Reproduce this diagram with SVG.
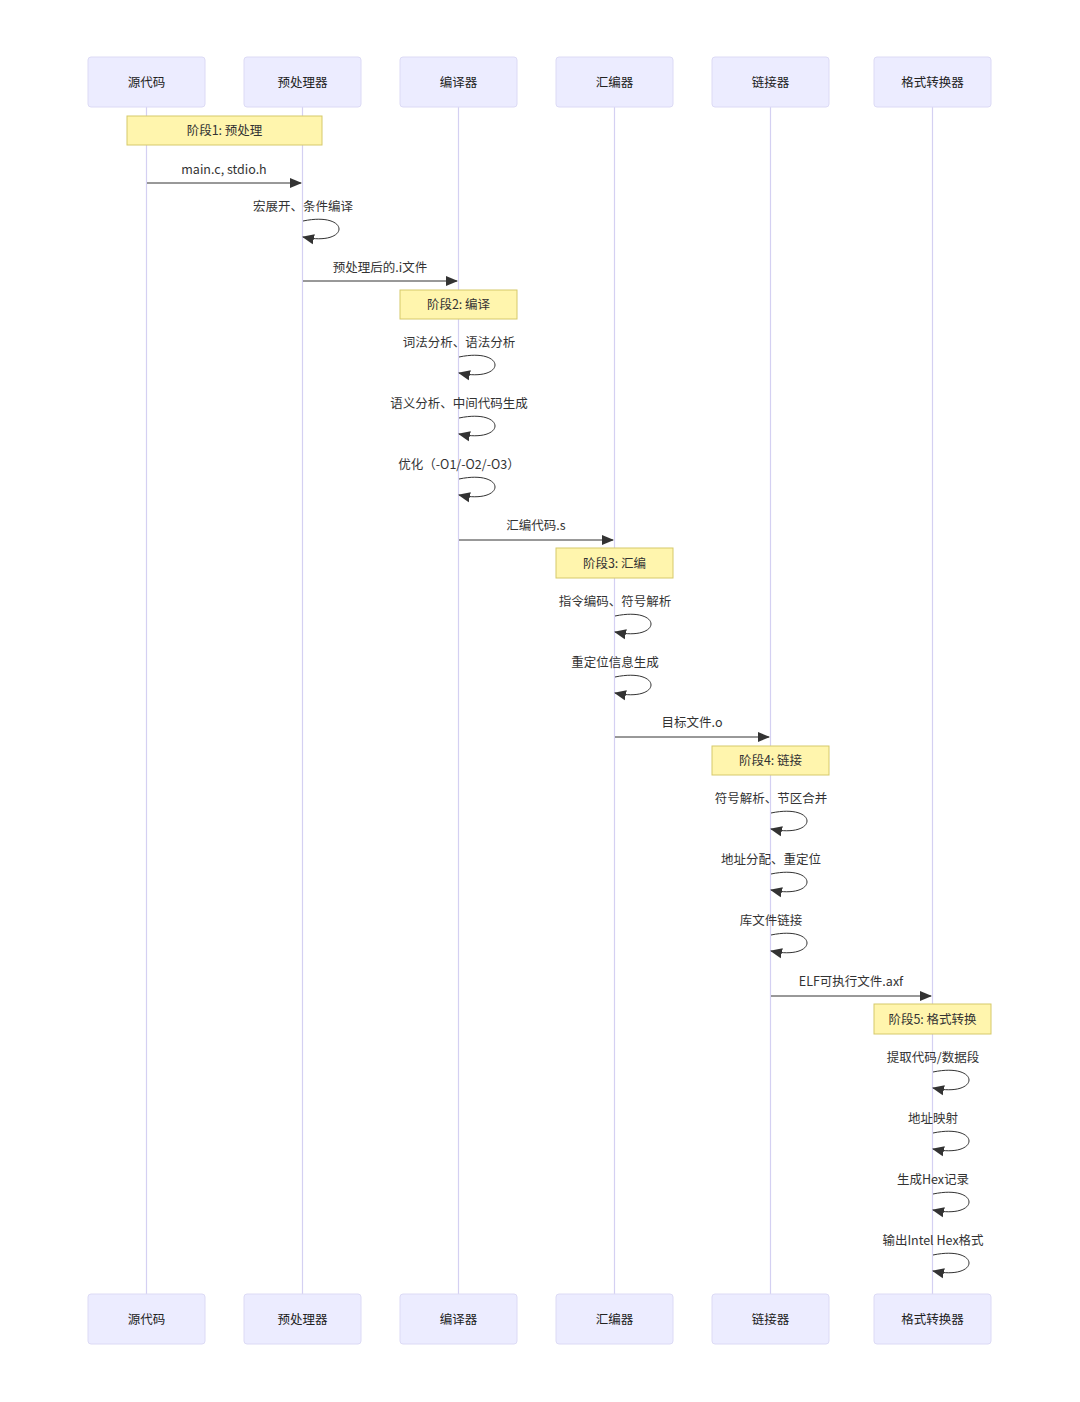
<svg xmlns="http://www.w3.org/2000/svg" width="1080" height="1402" viewBox="0 0 1080 1402">
<defs>
<style>
.actor{fill:#ECECFF;stroke:#dcdaf5;stroke-width:1}
.life{stroke:#d4d0f2;stroke-width:1.2}
.note{fill:#fff5ad;stroke:#d6c96a;stroke-width:1}
.msg{stroke:#333;stroke-width:1;fill:none}
.t{font-family:"Noto Sans CJK SC","Noto Sans",sans-serif;font-size:12.5px;fill:#333;text-anchor:middle;dominant-baseline:central}
.at{font-family:"Noto Sans CJK SC","Noto Sans",sans-serif;font-size:12.5px;fill:#222;text-anchor:middle;dominant-baseline:central}
</style>
<marker id="ah" markerWidth="12" markerHeight="12" refX="11" refY="5" orient="auto" markerUnits="userSpaceOnUse" viewBox="0 0 12 10">
<path d="M0,0 L12,5 L0,10 z" fill="#333"/>
</marker>
</defs>
<rect width="1080" height="1402" fill="#fff"/>
<g id="lifelines">
<line class="life" x1="146.5" y1="107" x2="146.5" y2="1294"/>
<line class="life" x1="302.5" y1="107" x2="302.5" y2="1294"/>
<line class="life" x1="458.5" y1="107" x2="458.5" y2="1294"/>
<line class="life" x1="614.5" y1="107" x2="614.5" y2="1294"/>
<line class="life" x1="770.5" y1="107" x2="770.5" y2="1294"/>
<line class="life" x1="932.5" y1="107" x2="932.5" y2="1294"/>
</g>
<g id="actor-src"><rect class="actor" x="88" y="57" width="117" height="50" rx="3"/><text class="at" x="146.5" y="81">源代码</text><rect class="actor" x="88" y="1294" width="117" height="50" rx="3"/><text class="at" x="146.5" y="1318">源代码</text></g>
<g id="actor-pre"><rect class="actor" x="244" y="57" width="117" height="50" rx="3"/><text class="at" x="302.5" y="81">预处理器</text><rect class="actor" x="244" y="1294" width="117" height="50" rx="3"/><text class="at" x="302.5" y="1318">预处理器</text></g>
<g id="actor-cc"><rect class="actor" x="400" y="57" width="117" height="50" rx="3"/><text class="at" x="458.5" y="81">编译器</text><rect class="actor" x="400" y="1294" width="117" height="50" rx="3"/><text class="at" x="458.5" y="1318">编译器</text></g>
<g id="actor-as"><rect class="actor" x="556" y="57" width="117" height="50" rx="3"/><text class="at" x="614.5" y="81">汇编器</text><rect class="actor" x="556" y="1294" width="117" height="50" rx="3"/><text class="at" x="614.5" y="1318">汇编器</text></g>
<g id="actor-ld"><rect class="actor" x="712" y="57" width="117" height="50" rx="3"/><text class="at" x="770.5" y="81">链接器</text><rect class="actor" x="712" y="1294" width="117" height="50" rx="3"/><text class="at" x="770.5" y="1318">链接器</text></g>
<g id="actor-fc"><rect class="actor" x="874" y="57" width="117" height="50" rx="3"/><text class="at" x="932.5" y="81">格式转换器</text><rect class="actor" x="874" y="1294" width="117" height="50" rx="3"/><text class="at" x="932.5" y="1318">格式转换器</text></g>
<g id="note1"><rect class="note" x="127" y="116" width="195" height="29"/><text class="t" x="224.5" y="129.5">阶段1: 预处理</text></g>
<g id="note2"><rect class="note" x="400" y="290" width="117" height="29"/><text class="t" x="458.5" y="303.5">阶段2: 编译</text></g>
<g id="note3"><rect class="note" x="556" y="548" width="117" height="30"/><text class="t" x="614.5" y="562">阶段3: 汇编</text></g>
<g id="note4"><rect class="note" x="712" y="746" width="117" height="29"/><text class="t" x="770.5" y="759.5">阶段4: 链接</text></g>
<g id="note5"><rect class="note" x="874" y="1004" width="117" height="30"/><text class="t" x="932.5" y="1018">阶段5: 格式转换</text></g>
<g id="connectors">
<line class="msg" x1="147" y1="183" x2="301" y2="183" marker-end="url(#ah)"/>
<path class="msg" d="M303,221 C351,211 351,247 303,237" marker-end="url(#ah)"/>
<line class="msg" x1="303" y1="281" x2="457" y2="281" marker-end="url(#ah)"/>
<path class="msg" d="M459,357 C507,347 507,383 459,373" marker-end="url(#ah)"/>
<path class="msg" d="M459,418 C507,408 507,444 459,434" marker-end="url(#ah)"/>
<path class="msg" d="M459,479 C507,469 507,505 459,495" marker-end="url(#ah)"/>
<line class="msg" x1="459" y1="540" x2="613" y2="540" marker-end="url(#ah)"/>
<path class="msg" d="M615,616 C663,606 663,642 615,632" marker-end="url(#ah)"/>
<path class="msg" d="M615,677 C663,667 663,703 615,693" marker-end="url(#ah)"/>
<line class="msg" x1="615" y1="737" x2="769" y2="737" marker-end="url(#ah)"/>
<path class="msg" d="M771,813 C819,803 819,839 771,829" marker-end="url(#ah)"/>
<path class="msg" d="M771,874 C819,864 819,900 771,890" marker-end="url(#ah)"/>
<path class="msg" d="M771,935 C819,925 819,961 771,951" marker-end="url(#ah)"/>
<line class="msg" x1="771" y1="996" x2="931" y2="996" marker-end="url(#ah)"/>
<path class="msg" d="M933,1072 C981,1062 981,1098 933,1088" marker-end="url(#ah)"/>
<path class="msg" d="M933,1133 C981,1123 981,1159 933,1149" marker-end="url(#ah)"/>
<path class="msg" d="M933,1194 C981,1184 981,1220 933,1210" marker-end="url(#ah)"/>
<path class="msg" d="M933,1255 C981,1245 981,1281 933,1271" marker-end="url(#ah)"/>
</g>
<g id="labels">
<text class="t" x="224" y="168">main.c, stdio.h</text>
<text class="t" x="303" y="205">宏展开、条件编译</text>
<text class="t" x="380" y="266">预处理后的.i文件</text>
<text class="t" x="459" y="341">词法分析、语法分析</text>
<text class="t" x="459" y="402">语义分析、中间代码生成</text>
<text class="t" x="459" y="463">优化（-O1/-O2/-O3）</text>
<text class="t" x="536" y="524">汇编代码.s</text>
<text class="t" x="615" y="600">指令编码、符号解析</text>
<text class="t" x="615" y="661">重定位信息生成</text>
<text class="t" x="692" y="721">目标文件.o</text>
<text class="t" x="771" y="797">符号解析、节区合并</text>
<text class="t" x="771" y="858">地址分配、重定位</text>
<text class="t" x="771" y="919">库文件链接</text>
<text class="t" x="851" y="980">ELF可执行文件.axf</text>
<text class="t" x="933" y="1056">提取代码/数据段</text>
<text class="t" x="933" y="1117">地址映射</text>
<text class="t" x="933" y="1178">生成Hex记录</text>
<text class="t" x="933" y="1239">输出Intel Hex格式</text>
</g>
</svg>
